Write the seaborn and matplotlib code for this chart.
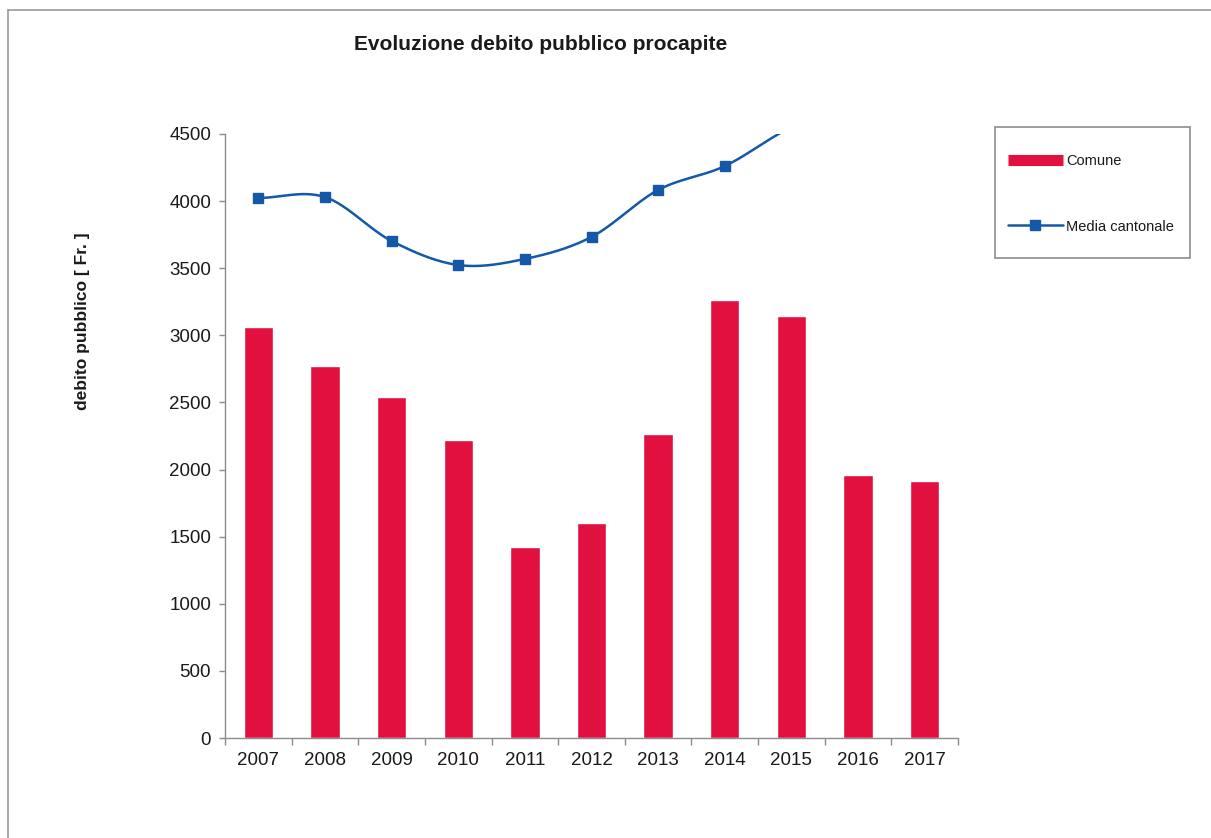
import numpy as np
import pandas as pd
import matplotlib
matplotlib.use("Agg")
import matplotlib.pyplot as plt
from matplotlib.lines import Line2D
from matplotlib.patches import Rectangle
import seaborn as sns

# data
years = ["2007", "2008", "2009", "2010", "2011", "2012", "2013", "2014", "2015", "2016", "2017"]
comune = [3062, 2771, 2540, 2220, 1423, 1602, 2265, 3263, 3144, 1959, 1915]
# 2015-2017 run off the top of the plot; values above 4500 are estimates
media_cantonale = [4023, 4030, 3703, 3524, 3569, 3733, 4083, 4261, 4550, 4720, 4850]

BAR_RED = "#E2103F"
LINE_BLUE = "#1558A8"
GRAY = "#8C8C8C"


def smooth_curve(y, n=30):
    """Catmull-Rom spline through the points (like Excel's smoothed line)."""
    y = np.asarray(y, dtype=float)
    x = np.arange(len(y), dtype=float)
    pts_x, pts_y = [], []
    for i in range(len(y) - 1):
        y0 = y[i - 1] if i > 0 else y[i]
        y3 = y[i + 2] if i + 2 < len(y) else y[i + 1]
        y1, y2 = y[i], y[i + 1]
        t = np.linspace(0, 1, n, endpoint=False)
        seg = 0.5 * ((2 * y1) + (-y0 + y2) * t
                     + (2 * y0 - 5 * y1 + 4 * y2 - y3) * t ** 2
                     + (-y0 + 3 * y1 - 3 * y2 + y3) * t ** 3)
        pts_x.append(x[i] + t)
        pts_y.append(seg)
    pts_x.append([x[-1]])
    pts_y.append([y[-1]])
    return np.concatenate(pts_x), np.concatenate(pts_y)


sns.set_theme(style="white")
plt.rcParams["font.family"] = ["Liberation Sans", "DejaVu Sans"]
plt.rcParams["text.color"] = "#1a1a1a"

df = pd.DataFrame({"Anno": years, "Comune": comune, "Media": media_cantonale})

fig = plt.figure(figsize=(12.11, 8.38), dpi=100)
ax = fig.add_axes([225 / 1211, 1 - 738 / 838, (958 - 225) / 1211, (738 - 134) / 838])

sns.barplot(data=df, x="Anno", y="Comune", color=BAR_RED, saturation=1,
            width=0.44, ax=ax, zorder=2)

sx, sy = smooth_curve(df["Media"])
ax.plot(sx, sy, color=LINE_BLUE, lw=1.8, zorder=3)
ax.plot(np.arange(len(years)), df["Media"], ls="none", marker="s", ms=7.5,
        color=LINE_BLUE, zorder=4)

ax.set_ylim(0, 4500)
ax.set_xlim(-0.5, len(years) - 0.5)
ax.set_yticks(range(0, 4501, 500))
ax.set_xlabel("")
ax.set_ylabel("")

fig.text(82 / 1211, 1 - 321 / 838, "debito pubblico [ Fr. ]", rotation=90,
         ha="center", va="center", fontsize=12.5, fontweight="bold")

# Excel-style ticks: x ticks between categories
ax.set_xticks(np.arange(-0.5, len(years), 1.0), minor=True)
ax.tick_params(axis="x", which="major", length=0, pad=10, labelsize=13.5,
               labelcolor="#1a1a1a")
ax.tick_params(axis="x", which="minor", length=5, width=1, color=GRAY,
               direction="out", bottom=True)
ax.tick_params(axis="y", which="major", length=4, width=1, color=GRAY,
               direction="out", left=True, pad=6, labelsize=13.5,
               labelcolor="#1a1a1a")

for side in ["top", "right"]:
    ax.spines[side].set_visible(False)
for side in ["left", "bottom"]:
    ax.spines[side].set_color(GRAY)
    ax.spines[side].set_linewidth(1)

fig.text(541 / 1211, 1 - 44 / 838, "Evoluzione debito pubblico procapite",
         ha="center", va="center", fontsize=15, fontweight="bold")

# legend: frame drawn separately, entries placed inside it
fig.add_artist(Rectangle((995 / 1211, 1 - 258 / 838), 195 / 1211, 131 / 838,
                         transform=fig.transFigure, fill=False,
                         edgecolor=GRAY, lw=1.2))
handles = [
    Line2D([], [], color=BAR_RED, lw=8, solid_capstyle="butt"),
    Line2D([], [], color=LINE_BLUE, lw=1.8, marker="s", ms=7.5),
]
ax.legend(handles, ["Comune", "Media cantonale"],
          loc="center left", bbox_to_anchor=(1008 / 1211, 1 - 194 / 838),
          bbox_transform=fig.transFigure, fontsize=10.5, frameon=False,
          borderpad=0, borderaxespad=0, labelspacing=3.5,
          handlelength=3.77, handletextpad=0.2)

# outer chart border (left and top only visible in reference)
fig.add_artist(Line2D([8 / 1211, 8 / 1211], [0, 1 - 10 / 838],
                      transform=fig.transFigure, color="#999999", lw=1.2))
fig.add_artist(Line2D([8 / 1211, 1], [1 - 10 / 838, 1 - 10 / 838],
                      transform=fig.transFigure, color="#999999", lw=1.2))

fig.savefig("out.png", dpi=100)
